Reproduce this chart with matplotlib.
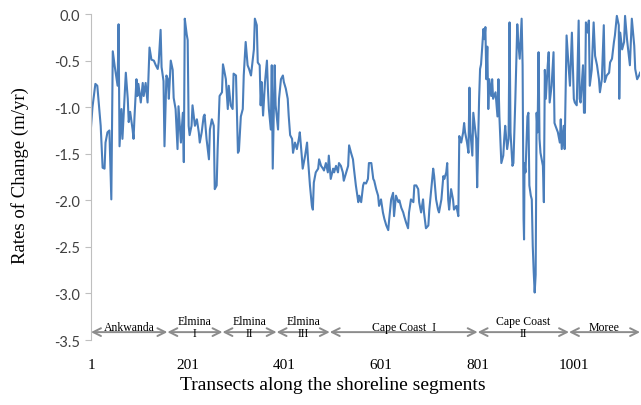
import numpy as np
import matplotlib
matplotlib.use("Agg")
import matplotlib.pyplot as plt
from matplotlib.ticker import FormatStrFormatter

plt.rcParams["axes.unicode_minus"] = False

# transect number and rate of change (m/yr)
transect = [
    1, 4, 10, 14, 21, 25, 29, 31, 35, 39, 41, 43, 46, 50, 56, 58, 60, 64, 66, 73,
    77, 79, 82, 87, 89, 91, 95, 97, 99, 104, 108, 110, 114, 118, 122, 126, 131, 135, 139, 141,
    145, 147, 151, 153, 157, 160, 162, 166, 170, 172, 176, 180, 182, 187, 191, 193, 195, 199, 201, 203,
    205, 209, 211, 216, 220, 224, 226, 230, 234, 236, 240, 245, 247, 251, 255, 257, 261, 263, 267, 272,
    274, 276, 280, 284, 286, 290, 294, 296, 301, 305, 307, 311, 315, 317, 321, 325, 328, 332, 336, 338,
    340, 344, 346, 350, 352, 354, 357, 361, 365, 367, 369, 373, 375, 377, 381, 383, 388, 390, 394, 398,
    400, 404, 408, 410, 413, 417, 419, 423, 427, 431, 433, 437, 439, 444, 448, 450, 454, 458, 460, 462,
    466, 471, 473, 477, 481, 483, 487, 491, 493, 497, 502, 504, 508, 512, 514, 518, 522, 524, 529, 533,
    535, 539, 543, 545, 549, 554, 556, 560, 564, 566, 570, 574, 576, 581, 585, 587, 591, 595, 597, 601,
    605, 608, 612, 616, 618, 622, 626, 628, 632, 637, 639, 643, 647, 649, 653, 657, 659, 663, 668, 670,
    674, 678, 680, 684, 688, 690, 694, 699, 701, 705, 709, 711, 715, 719, 721, 726, 730, 732, 736, 738,
    740, 742, 746, 750, 752, 757, 761, 763, 767, 771, 773, 775, 779, 782, 784, 786, 790, 792, 796, 798,
    800, 804, 806, 808, 813, 815, 817, 819, 821, 823, 825, 829, 831, 833, 838, 842, 844, 846, 850, 854,
    856, 858, 862, 865, 867, 869, 873, 875, 877, 879, 883, 885, 888, 892, 894, 896, 897, 898, 900, 904,
    906, 908, 911, 913, 915, 917, 919, 921, 923, 925, 927, 929, 931, 936, 938, 940, 942, 946, 948, 950,
    954, 958, 960, 962, 967, 971, 973, 975, 979, 981, 985, 989, 992, 996, 1000, 1002, 1006, 1010, 1012, 1014,
    1019, 1021, 1023, 1025, 1029, 1031, 1033, 1037, 1041, 1044, 1048, 1052, 1054, 1058, 1062, 1064, 1068, 1073, 1075, 1079,
    1083, 1085, 1089, 1093, 1094, 1096, 1100, 1104, 1106, 1110, 1114, 1116, 1120, 1125, 1127, 1131, 1135, 1137,
]
rate = [
    -1.21, -1.00, -0.75, -0.77, -1.20, -1.65, -1.66, -1.38, -1.27, -1.25, -1.60, -1.99, -0.40, -0.56, -0.77, -0.11, -1.42, -1.02, -1.34, -0.63,
    -0.91, -1.16, -1.05, -1.24, -1.34, -1.10, -0.70, -0.88, -0.75, -0.95, -0.74, -0.88, -0.74, -0.95, -0.36, -0.49, -0.50, -0.55, -0.59, -0.52,
    -0.17, -0.57, -0.72, -1.42, -0.66, -0.70, -0.91, -0.50, -0.60, -0.90, -1.02, -1.45, -0.99, -1.38, -1.06, -1.59, -0.05, -0.22, -0.28, -1.20,
    -1.30, -1.20, -0.98, -1.20, -1.13, -1.27, -1.38, -1.27, -1.10, -1.08, -1.34, -1.56, -1.24, -1.13, -1.20, -1.88, -1.84, -1.45, -0.88, -0.84,
    -0.54, -0.59, -0.70, -1.02, -0.77, -0.98, -1.02, -0.64, -0.66, -1.49, -1.47, -1.10, -1.02, -0.66, -0.30, -0.55, -0.59, -0.66, -0.48, -0.38,
    -0.05, -0.12, -0.52, -0.55, -0.98, -0.73, -1.09, -0.73, -0.50, -0.80, -1.02, -1.24, -0.55, -1.66, -0.55, -0.98, -1.24, -0.91, -0.70, -0.66,
    -0.73, -0.80, -0.91, -1.09, -1.30, -1.34, -1.49, -1.38, -1.45, -1.34, -1.27, -1.52, -1.66, -1.52, -1.38, -1.56, -1.84, -2.06, -2.10, -1.81,
    -1.70, -1.66, -1.56, -1.63, -1.66, -1.68, -1.60, -1.70, -1.52, -1.77, -1.66, -1.70, -1.63, -1.70, -1.60, -1.63, -1.70, -1.79, -1.70, -1.63,
    -1.41, -1.49, -1.56, -1.66, -1.84, -2.02, -1.95, -2.02, -1.84, -1.81, -1.82, -1.77, -1.60, -1.60, -1.77, -1.79, -1.88, -1.95, -2.06, -1.99,
    -2.13, -2.20, -2.27, -2.32, -2.20, -1.99, -1.92, -2.17, -1.95, -2.02, -2.00, -2.08, -2.13, -2.17, -2.24, -2.30, -2.13, -1.99, -2.02, -1.84,
    -1.84, -1.88, -2.02, -2.13, -1.99, -2.13, -2.30, -2.27, -2.10, -1.88, -1.66, -1.74, -1.99, -2.10, -2.13, -1.99, -1.74, -1.77, -1.70, -1.60,
    -1.99, -2.10, -1.88, -1.99, -2.10, -2.06, -2.17, -1.31, -1.38, -1.27, -1.17, -1.27, -1.38, -1.49, -0.79, -1.27, -1.52, -1.06, -1.24, -1.34,
    -1.86, -0.91, -0.59, -0.54, -0.16, -0.27, -0.14, -0.70, -0.35, -1.02, -0.70, -0.88, -0.70, -0.91, -0.84, -1.10, -0.70, -1.10, -1.60, -1.52,
    -1.34, -1.20, -1.45, -1.34, -0.09, -1.27, -1.63, -1.60, -1.27, -0.91, -0.11, -0.30, -0.48, -0.05, -0.55, -2.20, -2.42, -1.60, -1.70, -1.10,
    -1.06, -1.84, -1.95, -1.99, -2.49, -2.77, -2.99, -2.80, -1.06, -1.27, -0.41, -1.34, -1.49, -1.63, -2.02, -0.60, -0.91, -0.55, -0.41, -0.95,
    -0.77, -0.41, -1.17, -1.20, -1.27, -1.38, -1.13, -1.45, -1.20, -1.45, -0.23, -0.55, -0.77, -0.20, -0.91, -0.95, -0.98, -0.07, -0.91, -0.95,
    -0.55, -1.06, -1.06, -0.09, -0.20, -0.07, -0.77, -0.60, -0.09, -0.45, -0.55, -0.70, -0.84, -0.70, -0.12, -0.73, -0.66, -0.63, -0.52, -0.48,
    -0.30, -0.23, -0.02, -0.12, -0.91, -0.20, -0.38, -0.30, -0.02, -0.27, -0.45, -0.55, -0.05, -0.34, -0.59, -0.70, -0.66, -0.63,
]

# shoreline segments and their transect limits
segment_names = ["Ankwanda", "Elmina\nI", "Elmina\nII", "Elmina\nIII",
                 "Cape Coast  I", "Cape Coast\nII", "Moree"]
segment_bounds = [1, 159, 273, 385, 495, 801, 990, 1137]

tick_pos = [1, 201, 401, 601, 801, 1001]

serif = "Liberation Serif"

fig = plt.figure(figsize=(6.41, 4.06), dpi=100)
ax = fig.add_axes([0.142, 0.160, 0.8565, 0.803])

ax.plot(transect, rate, color="#4a7ebb", lw=1.5)

ax.set_xlim(1, 1137)
ax.set_ylim(-3.5, 0)

ax.set_yticks(np.arange(-3.5, 0.01, 0.5))
ax.yaxis.set_major_formatter(FormatStrFormatter("%.1f"))
ax.tick_params(axis="y", direction="out", length=4, color="#bfbfbf",
               labelsize=10.5, labelcolor="#404040", pad=4)
for lab in ax.get_yticklabels():
    lab.set_fontfamily("Lato")

ax.set_xticks(tick_pos)
ax.set_xticklabels([str(t) for t in tick_pos], fontfamily=serif, fontsize=11)
ax.tick_params(axis="x", length=0, pad=13)

for s in ["top", "right", "bottom"]:
    ax.spines[s].set_visible(False)
ax.spines["left"].set_color("#bfbfbf")

# segment arrows along the bottom
for i, name in enumerate(segment_names):
    a, b = segment_bounds[i], segment_bounds[i + 1]
    ax.annotate("", xy=(a, -3.415), xytext=(b, -3.415), annotation_clip=False,
                arrowprops=dict(arrowstyle="<->", color="#8c8c8c", lw=1.4,
                                shrinkA=0, shrinkB=0, mutation_scale=14))
    ax.text((a + b) / 2, -3.36, name, ha="center", va="center",
            fontfamily=serif, fontsize=8.5, linespacing=0.95, clip_on=False)

fig.text(20 / 641, 1 - 176 / 406, "Rates of Change (m/yr)", rotation=90,
         ha="center", va="center", fontfamily=serif, fontsize=13.5)
fig.text(333 / 641, 1 - 386 / 406, "Transects along the shoreline segments",
         ha="center", va="center", fontfamily=serif, fontsize=14)

plt.savefig("out.png", dpi=100)
plt.close()
